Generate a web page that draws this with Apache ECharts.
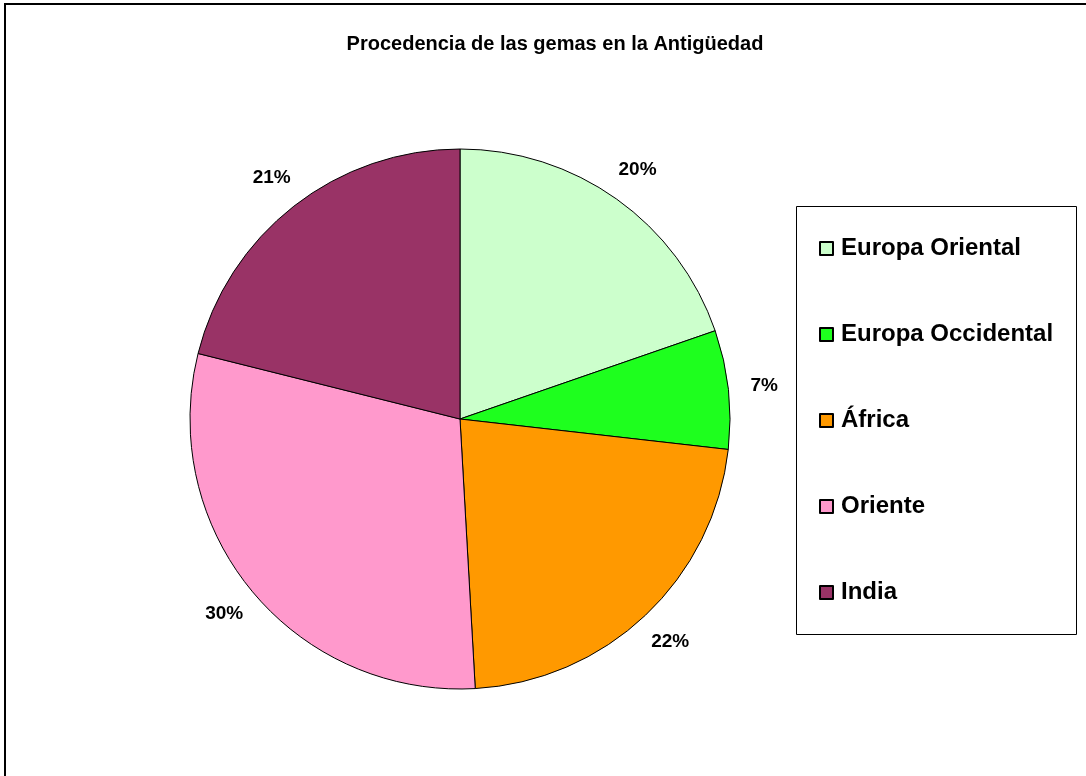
<!DOCTYPE html>
<html>
<head>
<meta charset="utf-8">
<script src="https://cdn.jsdelivr.net/npm/echarts@6/dist/echarts.min.js"></script>
<style>
  html, body { margin: 0; padding: 0; background: #fff; }
  #gemas { width: 1086px; height: 776px; }
</style>
</head>
<body>
<div id="gemas"></div>
<script>
// datos (porcentajes aproximados)
var regiones = ['Europa Oriental', 'Europa Occidental', 'África', 'Oriente', 'India']
var valores = [19.7, 7.1, 22.3, 29.8, 21.1]
var colores = ['#ccffcc', '#1eff1e', '#ff9900', '#ff99cc', '#993366']

var myChart = echarts.init(document.getElementById('gemas'))

var datos = []
var etiquetas = [] // serie invisible que sólo lleva los porcentajes
for (var i = 0; i < regiones.length; i++) {
  datos.push({
    name: regiones[i],
    value: valores[i],
    itemStyle: { color: colores[i] }
  })
  etiquetas.push({ name: regiones[i], value: valores[i] })
}

var fuente = 'Liberation Sans, Arial'

var option = {
  backgroundColor: '#ffffff',
  animation: false,
  title: {
    text: 'Procedencia de las gemas en la Antigüedad',
    left: 550,
    top: 29,
    textAlign: 'center',
    textStyle: {
      color: '#000',
      fontFamily: fuente,
      fontWeight: 'bold',
      fontSize: 20
    }
  },
  legend: {
    orient: 'vertical',
    left: 814,
    top: 231,
    icon: 'rect',
    itemWidth: 13,
    itemHeight: 13,
    itemGap: 61,
    data: regiones,
    textStyle: {
      color: '#000',
      fontFamily: fuente,
      fontWeight: 'bold',
      fontSize: 24,
      lineHeight: 25,
      padding: [0, 0, 0, 3]
    }
  },
  graphic: [
    { // marco exterior
      type: 'rect',
      shape: { x: 5, y: 4, width: 1100, height: 800 },
      style: { fill: 'none', stroke: '#000', lineWidth: 2 }
    },
    { // caja de la leyenda
      type: 'rect',
      shape: { x: 796.5, y: 206.5, width: 280, height: 428 },
      style: { fill: 'none', stroke: '#000', lineWidth: 1 }
    }
  ],
  series: [
    {
      name: 'Procedencia',
      type: 'pie',
      center: [460, 419],
      radius: 270,
      startAngle: 90,
      clockwise: true,
      itemStyle: {
        borderColor: '#000',
        borderWidth: 1
      },
      label: { show: false },
      labelLine: { show: false },
      emphasis: { disabled: true },
      data: datos
    },
    {
      name: 'Porcentajes',
      type: 'pie',
      center: [460, 419],
      radius: [290, 316],
      startAngle: 90,
      clockwise: true,
      silent: true,
      itemStyle: { color: 'rgba(0,0,0,0)', borderWidth: 0 },
      label: {
        show: true,
        position: 'inside',
        color: '#000',
        fontFamily: fuente,
        fontWeight: 'bold',
        fontSize: 19,
        formatter: function(p) {
          return Math.round(p.percent) + '%'
        }
      },
      labelLine: { show: false },
      emphasis: { disabled: true },
      data: etiquetas
    }
  ]
}

myChart.setOption(option)
</script>
</body>
</html>
